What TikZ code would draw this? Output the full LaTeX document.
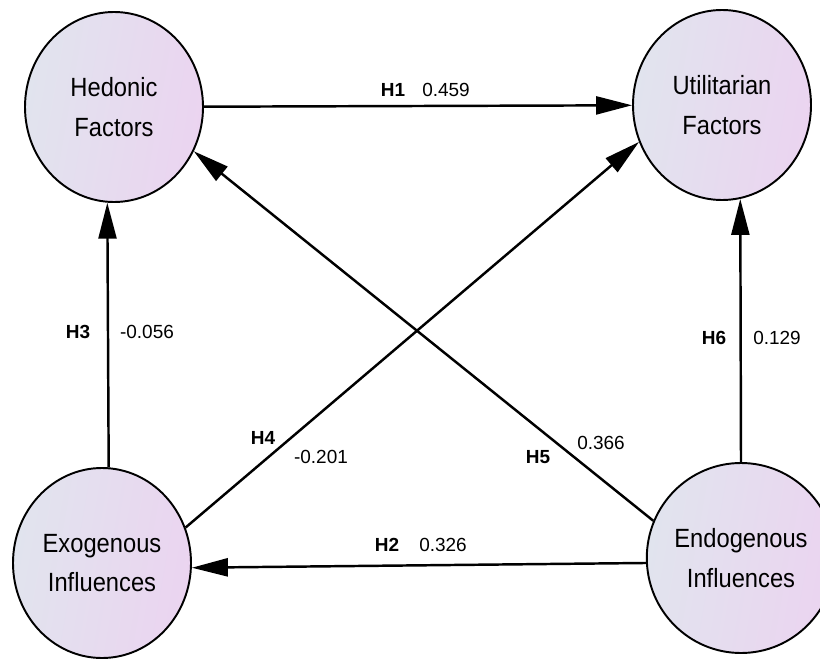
\documentclass[tikz,border=0pt]{standalone}
\usepackage{fontspec}
\setmainfont{Liberation Sans}
\newfontfamily\nodefont{Liberation Sans}[FakeStretch=0.9]
\usepackage{tikz}
\usetikzlibrary{arrows.meta,%
		calc,%
		positioning,%
		shapes,%
		shapes.geometric}
\definecolor{costleft}{RGB}{225,228,238}
\definecolor{costright}{RGB}{235,212,240}
\tikzset{costrutto/.style={ellipse, draw=black, line width=1.1pt,
		minimum width=3.56cm, minimum height=3.8cm, inner sep=0pt,
		left color=costleft, right color=costright, shading angle=80,
		align=center, font=\nodefont\fontsize{15}{22.5}\selectfont},
	ipotesi/.style={line width=1.4pt, -{Triangle[length=0.72cm,width=0.36cm]}},
	etich/.style={font=\fontsize{10.8}{12}\selectfont\bfseries, inner sep=0pt},
	coeff/.style={font=\fontsize{10.8}{12}\selectfont, inner sep=0pt}}

\begin{document}
\begin{tikzpicture}
\useasboundingbox (0,0) rectangle (16.4,13.18);
%Costrutti
\node[costrutto] (HF) at (2.28,11.04) {Hedonic\\Factors};
\node[costrutto] (UF) at (14.44,11.08) {Utilitarian\\Factors};
\node[costrutto] (EXO) at (2.04,1.92) {Exogenous\\Influences};
\node[costrutto] (ENDO) at (14.82,2.02) {Endogenous\\Influences};
%Ipotesi
\draw[ipotesi] (HF) -- (UF);
\draw[ipotesi] (ENDO.183) -- (EXO.357);
\draw[ipotesi] (EXO.86) -- (HF.266);
\draw[ipotesi] (EXO.23) -- (UF.204);
\draw[ipotesi] (ENDO.157) -- (HF.331);
\draw[ipotesi] (ENDO.north) -- (UF.281);
%Coefficienti
\node[etich] (h1) at (7.86,11.38) {H1};
\node[coeff] (c1) at (8.92,11.38) {0.459};
\node[etich] (h2) at (7.74,2.28) {H2};
\node[coeff] (c2) at (8.86,2.28) {0.326};
\node[etich] (h3) at (1.56,6.54) {H3};
\node[coeff] (c3) at (2.94,6.54) {-0.056};
\node[etich] (h4) at (5.26,4.42) {H4};
\node[coeff] (c4) at (6.42,4.04) {-0.201};
\node[etich] (h5) at (10.76,4.04) {H5};
\node[coeff] (c5) at (12.02,4.32) {0.366};
\node[etich] (h6) at (14.28,6.42) {H6};
\node[coeff] (c6) at (15.54,6.42) {0.129};
\end{tikzpicture}
\end{document}
